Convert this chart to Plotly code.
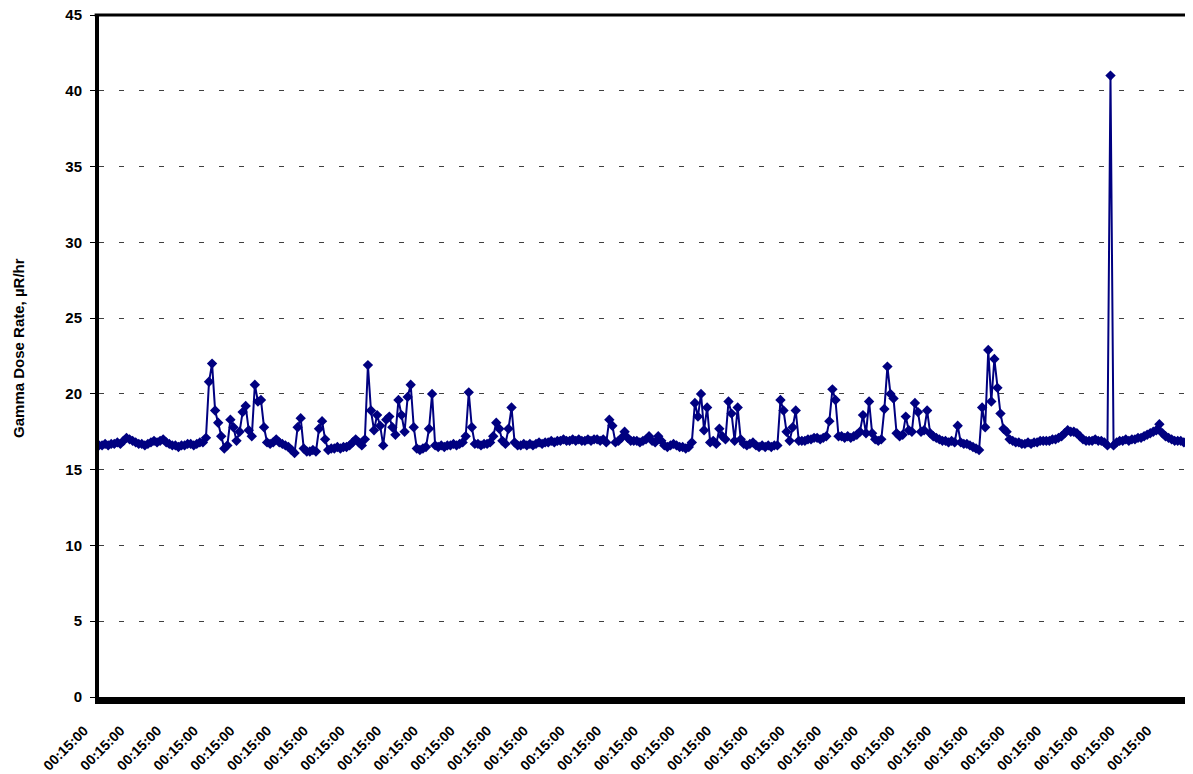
import plotly.graph_objects as go

# Gamma dose rate readings (uR/hr), 12 readings per day label
dose = [
    16.6, 16.6, 16.7, 16.6, 16.7, 16.7, 16.8, 16.7, 16.9, 17.1, 17.0, 16.9,
    16.8, 16.7, 16.7, 16.6, 16.7, 16.8, 16.9, 16.8, 16.9, 17.0, 16.8, 16.7,
    16.6, 16.6, 16.5, 16.6, 16.6, 16.7, 16.7, 16.6, 16.7, 16.8, 16.8, 17.1,
    20.8, 22.0, 18.9, 18.1, 17.2, 16.4, 16.6, 18.3, 17.8, 16.9, 17.5, 18.8,
    19.2, 17.6, 17.2, 20.6, 19.5, 19.6, 17.8, 16.8, 16.7, 16.8, 17.0, 16.8,
    16.7, 16.6, 16.5, 16.3, 16.1, 17.8, 18.4, 16.4, 16.2, 16.2, 16.3, 16.2,
    17.7, 18.2, 17.0, 16.3, 16.4, 16.4, 16.5, 16.4, 16.5, 16.5, 16.6, 16.8,
    17.0, 16.8, 16.6, 17.0, 21.9, 18.9, 17.6, 18.6, 17.9, 16.6, 18.3, 18.5,
    17.8, 17.3, 19.6, 18.6, 17.5, 19.8, 20.6, 17.8, 16.4, 16.3, 16.4, 16.5,
    17.7, 20.0, 16.6, 16.5, 16.6, 16.5, 16.6, 16.6, 16.7, 16.6, 16.7, 16.8,
    17.2, 20.1, 17.8, 16.7, 16.7, 16.6, 16.7, 16.7, 16.8, 17.2, 18.1, 17.7,
    16.9, 16.7, 17.7, 19.1, 16.8, 16.6, 16.6, 16.7, 16.6, 16.7, 16.6, 16.7,
    16.8, 16.7, 16.8, 16.8, 16.9, 16.8, 16.9, 16.9, 17.0, 16.9, 16.9, 17.0,
    16.9, 17.0, 16.9, 16.9, 17.0, 16.9, 17.0, 17.0, 16.9, 17.0, 16.8, 18.3,
    17.9, 16.8, 16.9, 17.1, 17.5, 17.1, 16.9, 16.9, 16.9, 16.8, 16.9, 17.0,
    17.2, 16.9, 16.8, 17.2, 16.9, 16.6, 16.5, 16.6, 16.7, 16.6, 16.5, 16.5,
    16.4, 16.5, 16.8, 19.4, 18.5, 20.0, 17.6, 19.1, 16.8, 16.9, 16.7, 17.7,
    17.2, 17.0, 19.5, 18.7, 16.9, 19.1, 17.0, 16.7, 16.6, 16.7, 16.8, 16.6,
    16.5, 16.6, 16.5, 16.6, 16.5, 16.6, 16.6, 19.6, 18.9, 17.5, 16.9, 17.8,
    18.9, 16.9, 16.9, 16.9, 17.0, 17.0, 17.1, 17.1, 17.0, 17.1, 17.2, 18.2,
    20.3, 19.6, 17.2, 17.2, 17.1, 17.2, 17.1, 17.2, 17.3, 17.5, 18.6, 17.4,
    19.5, 17.4, 17.0, 16.9, 17.0, 19.0, 21.8, 20.0, 19.7, 17.4, 17.2, 17.3,
    18.5, 17.6, 17.5, 19.4, 18.8, 17.5, 17.6, 18.9, 17.4, 17.2, 17.1, 17.0,
    16.9, 16.9, 16.8, 16.9, 16.8, 17.9, 16.8, 16.7, 16.7, 16.6, 16.5, 16.4,
    16.3, 19.1, 17.8, 22.9, 19.5, 22.3, 20.4, 18.7, 17.7, 17.5, 17.0, 16.9,
    16.8, 16.8, 16.7, 16.7, 16.8, 16.7, 16.8, 16.8, 16.9, 16.9, 16.9, 16.9,
    17.0, 17.0, 17.1, 17.2, 17.4, 17.6, 17.5, 17.5, 17.4, 17.2, 17.0, 16.9,
    16.9, 16.9, 17.0, 16.9, 16.9, 16.8, 16.6, 41.0, 16.6, 16.8, 16.9, 16.9,
    17.0, 16.9, 17.0, 17.0, 17.1, 17.1, 17.2, 17.3, 17.4, 17.5, 17.6, 18.0,
    17.4, 17.2, 17.1, 17.0, 16.9, 16.9, 16.9, 16.8, 16.8, 16.8,
]

tick_labels = ["00:15:00"] * 30
READINGS_PER_LABEL = 12

NAVY = '#000080'
FONT = dict(family='Liberation Sans, Arial, sans-serif', size=15, color='black', weight='bold')
XFONT = dict(FONT, size=14)

x = list(range(len(dose)))

fig = go.Figure(go.Scatter(
    x=x, y=dose,
    mode='lines+markers',
    line=dict(color=NAVY, width=2),
    marker=dict(symbol='diamond', size=8, color=NAVY),
    hovertemplate='%{y:.1f} µR/hr<extra></extra>',
))

# the page body adds an 8px offset, margins allow for it
fig.update_layout(
    width=1193, height=774,
    margin=dict(l=91, r=8, t=7, b=85),
    plot_bgcolor='white', paper_bgcolor='white',
    showlegend=False,
    font=FONT,
    xaxis=dict(
        range=[0, 358],
        tickmode='array',
        tickvals=[k * READINGS_PER_LABEL for k in range(len(tick_labels))],
        ticktext=tick_labels,
        tickangle=-45,
        ticks='',
        ticklabelshift=-15,
        ticklabelstandoff=13,
        showgrid=False, zeroline=False,
        showline=True, linecolor='black', linewidth=7,
        tickfont=XFONT,
        automargin=False,
    ),
    yaxis=dict(
        range=[0, 45], tick0=0, dtick=5,
        ticks='outside', ticklen=5, tickcolor='black', tickwidth=1,
        ticklabelstandoff=5,
        ticklabeloverflow='allow',
        showgrid=True, gridcolor='#404040', gridwidth=1, griddash='5px,15px',
        zeroline=False,
        showline=True, linecolor='black', linewidth=4,
        tickfont=FONT,
        automargin=False,
    ),
    shapes=[dict(type='line', xref='paper', yref='paper', x0=-0.004, x1=1, y0=1, y1=1,
                 line=dict(color='black', width=3))],
    annotations=[dict(
        text='Gamma Dose Rate, µR/hr', textangle=-90,
        xref='paper', yref='paper', x=-0.073, y=0.512,
        xanchor='center', yanchor='middle', showarrow=False,
        font=FONT,
    )],
)

fig.write_html("out.html")
